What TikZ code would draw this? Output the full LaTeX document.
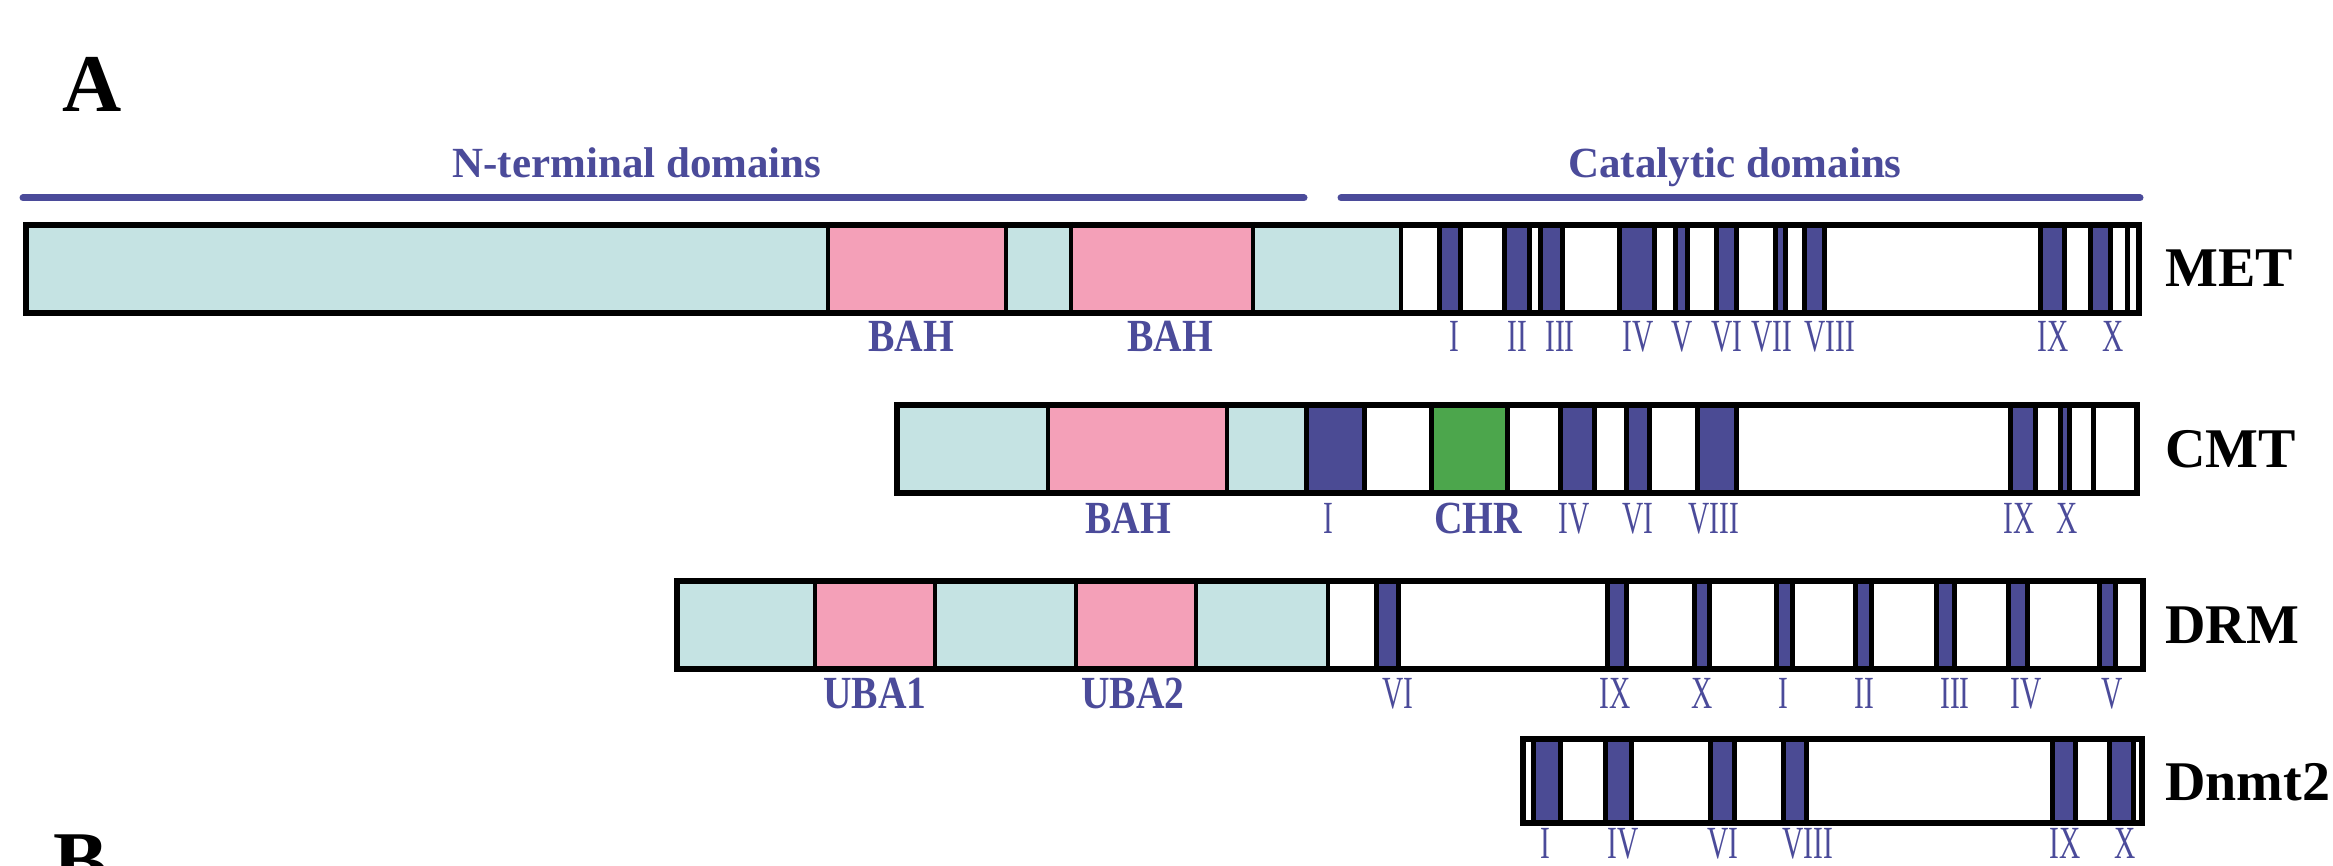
\documentclass[tikz,border=0pt]{standalone}
\usepackage{fontspec}
\setmainfont{Liberation Serif}
\usepackage{graphicx}
\definecolor{cyanbg}{HTML}{C5E3E3}
\definecolor{pinkbg}{HTML}{F4A0B8}
\definecolor{bandblue}{HTML}{4B4B94}
\definecolor{chrgreen}{HTML}{4CA64C}
\definecolor{labblue}{HTML}{4B4B9A}
\newcommand\rn[1]{\scalebox{0.64}[1]{#1}}
\newcommand\bn[1]{\scalebox{0.86}[1]{#1}}
\begin{document}
\begin{tikzpicture}[x=1pt,y=-1pt,
 seg/.style={draw=black,line width=4pt},
 bandbox/.style={fill=bandblue,draw=black,line width=5pt},
 thinline/.style={draw=black,line width=5pt},
 outer/.style={draw=black,line width=6pt},
 numlab/.style={text=labblue,font=\fontsize{46}{46}\selectfont,inner sep=0pt,anchor=base},
 domlab/.style={text=labblue,font=\fontsize{46}{46}\selectfont\bfseries,inner sep=0pt,anchor=base},
 protlab/.style={text=black,font=\fontsize{56}{56}\selectfont\bfseries,inner sep=0pt,anchor=base west},
 head/.style={text=labblue,font=\fontsize{43}{43}\selectfont\bfseries,inner sep=0pt,anchor=base},
 panel/.style={text=black,font=\fontsize{82}{82}\selectfont\bfseries,inner sep=0pt,anchor=base west},
 rule/.style={draw=labblue,line width=7pt,line cap=round}]
\useasboundingbox (0,0) rectangle (2333,866);
\clip (0,0) rectangle (2333,866);

% panel letters
\node[panel] (pA) at (62,112) {A};
\node[panel] (pB) at (53,888) {B};

% headings
\node[head] (hN) at (637,178) {N-terminal domains};
\node[head] (hC) at (1735,178) {Catalytic domains};
\coordinate (n1) at (23,198); \coordinate (n2) at (1304,198);
\coordinate (c1) at (1341,198); \coordinate (c2) at (2140,198);
\draw[rule] (n1) -- (n2);
\draw[rule] (c1) -- (c2);

% ---------------- MET ----------------
\fill[cyanbg] (23,222) rectangle (2142,316);
\fill[pinkbg] (828,222) rectangle (1006,316);
\fill[pinkbg] (1071,222) rectangle (1253,316);
\fill[white] (1401,222) rectangle (2142,316);
\foreach \x in {828,1006,1071,1253,1401} \draw[seg] (\x,222) -- (\x,316);
\foreach \a/\b in {1437/1463,1502/1532,1538/1565,1617/1657,1673/1690,1714/1739,1773/1788,1802/1827,2038/2067,2088/2113}
  \draw[bandbox] ({\a+2.5},225) rectangle ({\b-2.5},313);
\draw[thinline] (2127.5,222) -- (2127.5,316);
\draw[outer] (26,225) rectangle (2139,313);
\node[domlab] (metbah1) at (911,352) {\bn{BAH}};
\node[domlab] (metbah2) at (1170,352) {\bn{BAH}};
\foreach \x/\t in {1454/I,1517/II,1560/III,1638/IV,1682/V,1727/VI,1772/VII,1830/VIII,2053/IX,2113/X}
  \node[numlab] (met-\x) at (\x,352) {\rn{\t}};
\node[protlab] (met) at (2165,287) {MET};

% ---------------- CMT ----------------
\fill[cyanbg] (894,402) rectangle (2140,496);
\fill[pinkbg] (1048,402) rectangle (1227,496);
\fill[white] (1304,402) rectangle (2140,496);
\foreach \x in {1048,1227} \draw[seg] (\x,402) -- (\x,496);
\draw[fill=chrgreen,draw=black,line width=5pt] (1431.5,405) rectangle (1507.5,493);
\foreach \a/\b in {1304/1367,1558/1597,1624/1652,1695/1739,2008/2038,2058/2072}
  \draw[bandbox] ({\a+2.5},405) rectangle ({\b-2.5},493);
\draw[thinline] (2093,402) -- (2093,496);
\draw[outer] (897,405) rectangle (2137,493);
\node[domlab] (cmtbah) at (1128,533) {\bn{BAH}};
\node[domlab] (cmtchr) at (1478,533) {\bn{CHR}};
\foreach \x/\t in {1328/I,1574/IV,1638/VI,1714/VIII,2019/IX,2067/X}
  \node[numlab] (cmt-\x) at (\x,533) {\rn{\t}};
\node[protlab] (cmt) at (2165,467) {CMT};

% ---------------- DRM ----------------
\fill[cyanbg] (674,578) rectangle (2146,672);
\fill[pinkbg] (815,578) rectangle (935,672);
\fill[pinkbg] (1076,578) rectangle (1196,672);
\fill[white] (1328,578) rectangle (2146,672);
\foreach \x in {815,935,1076,1196,1328} \draw[seg] (\x,578) -- (\x,672);
\foreach \a/\b in {1374/1401,1605/1629,1692/1712,1774/1795,1853/1874,1934/1957,2006/2030,2097/2118}
  \draw[bandbox] ({\a+2.5},581) rectangle ({\b-2.5},669);
\draw[outer] (677,581) rectangle (2143,669);
\node[domlab] (uba1) at (875,708) {\bn{UBA1}};
\node[domlab] (uba2) at (1133,708) {\bn{UBA2}};
\foreach \x/\t in {1398/VI,1615/IX,1702/X,1783/I,1864/II,1955/III,2026/IV,2112/V}
  \node[numlab] (drm-\x) at (\x,708) {\rn{\t}};
\node[protlab] (drm) at (2165,643) {DRM};

% ---------------- Dnmt2 ----------------
\fill[white] (1520,736) rectangle (2145,826);
\foreach \a/\b in {1531/1563,1603/1634,1708/1737,1781/1809,2050/2078,2107/2136}
  \draw[bandbox] ({\a+2.5},739) rectangle ({\b-2.5},823);
\draw[outer] (1523,739) rectangle (2142,823);
\foreach \x/\t in {1545/I,1623/IV,1723/VI,1808/VIII,2065/IX,2125/X}
  \node[numlab] (dn-\x) at (\x,858) {\rn{\t}};
\node[protlab] (dnmt) at (2165,800) {Dnmt2};
\end{tikzpicture}
\end{document}
